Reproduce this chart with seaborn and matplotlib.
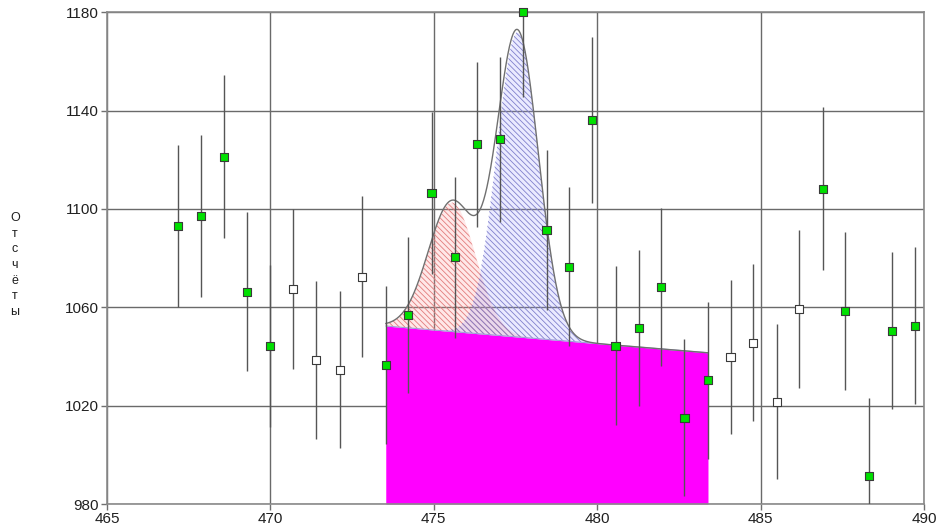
import numpy as np
import pandas as pd
import matplotlib
matplotlib.use("Agg")
import matplotlib.pyplot as plt
import seaborn as sns

# Measured spectrum: channel energy, counts and their uncertainties
energy = [467.18, 467.89, 468.59, 469.29, 470.00, 470.70, 471.40, 472.12, 472.81,
          473.53, 474.22, 474.93, 475.65, 476.33, 477.03, 477.74, 478.45, 479.15,
          479.84, 480.56, 481.27, 481.96, 482.67, 483.39, 484.08, 484.78, 485.49,
          486.18, 486.91, 487.59, 488.31, 489.01, 489.72]
counts = [1093.2, 1097.1, 1121.3, 1066.4, 1044.4, 1067.5, 1038.6, 1034.6, 1072.5,
          1036.5, 1056.9, 1106.4, 1080.3, 1126.3, 1128.3, 1180.0, 1091.5, 1076.5,
          1136.2, 1044.4, 1051.5, 1068.4, 1015.1, 1030.4, 1039.7, 1045.6, 1021.6,
          1059.4, 1108.3, 1058.6, 991.4, 1050.5, 1052.5]
errors = [33.0, 33.0, 33.3, 32.5, 33.0, 32.6, 32.0, 32.0, 32.6,
          32.0, 31.6, 33.0, 32.8, 33.5, 33.5, 34.3, 32.5, 32.3,
          33.7, 32.3, 31.8, 32.1, 31.9, 31.9, 31.4, 31.9, 31.6,
          32.1, 33.1, 32.2, 31.6, 31.9, 32.0]
# Channels used in the fit ("fit") versus background reference channels ("ref")
status = ["fit", "fit", "fit", "fit", "fit", "ref", "ref", "ref", "ref",
          "fit", "fit", "fit", "fit", "fit", "fit", "fit", "fit", "fit",
          "fit", "fit", "fit", "fit", "fit", "fit", "ref", "ref", "ref",
          "ref", "fit", "fit", "fit", "fit", "fit"]

# Fit window and linear background
fit_lo, fit_hi = 473.53, 483.39
bg_lo, bg_hi = 1052.4, 1041.5
# Two Gaussian components: (centre, amplitude, sigma)
peak1 = (475.55, 52.5, 0.72)
peak2 = (477.56, 124.0, 0.64)

x_ticks = [465, 470, 475, 480, 485, 490]
y_ticks = [980, 1020, 1060, 1100, 1140, 1180]

df = pd.DataFrame({"energy": energy, "counts": counts, "err": errors, "status": status})

sns.set_style("white")
plt.rcParams["font.family"] = ["Liberation Sans", "DejaVu Sans"]
plt.rcParams["hatch.linewidth"] = 0.6

fig = plt.figure(figsize=(9.39, 5.29), dpi=100)
ax = fig.add_axes([107 / 939, 1 - 504 / 529, 817 / 939, 491.7 / 529])

ax.set_xlim(465, 490)
ax.set_ylim(980, 1180)
ax.set_xticks(x_ticks)
ax.set_yticks(y_ticks)
ax.tick_params(axis="both", labelsize=11, length=4, width=1, color="#707070",
               direction="out", pad=2, bottom=True, left=True, labelcolor="#202020")

grid_c = "#6a6a6a"
ax.grid(True, color=grid_c, linewidth=1.0, zorder=0)
ax.set_axisbelow(True)
for s in ax.spines.values():
    s.set_color("#8a8a8a")
    s.set_linewidth(1.2)

# Fitted model
xf = np.linspace(fit_lo, fit_hi, 600)
bg = bg_lo + (xf - fit_lo) * (bg_hi - bg_lo) / (fit_hi - fit_lo)


def gauss(x, p):
    c, a, s = p
    return a * np.exp(-0.5 * ((x - c) / s) ** 2)


g1 = gauss(xf, peak1)
g2 = gauss(xf, peak2)

ax.fill_between(xf, 980, bg, color="#ff00ff", linewidth=0, zorder=1)

hatch = "\\\\\\\\\\\\"
ax.fill_between(xf, bg, bg + g1, facecolor=(1.0, 0.6, 0.6, 0.22), linewidth=0, zorder=1.5)
ax.fill_between(xf, bg, bg + g1, facecolor="none", edgecolor="#e27c7c", hatch=hatch,
                linewidth=0, zorder=1.6)
ax.fill_between(xf, bg, bg + g2, facecolor=(0.6, 0.6, 1.0, 0.2), linewidth=0, zorder=1.5)
ax.fill_between(xf, bg, bg + g2, facecolor="none", edgecolor="#8080cc", hatch=hatch,
                linewidth=0, zorder=1.6)

ax.plot(xf, bg, color="#a0a0d8", linewidth=0.8, zorder=1.7)
ax.plot(xf, bg + g1 + g2, color="#707070", linewidth=1.0, zorder=2)

# Error bars and points
ax.errorbar(df["energy"], df["counts"], yerr=df["err"], fmt="none",
            ecolor="#555555", elinewidth=1.0, capsize=0, zorder=3)
sns.scatterplot(data=df, x="energy", y="counts", hue="status",
                palette={"fit": "#00e000", "ref": "white"}, marker="s", s=34,
                edgecolor="#3a3a3a", linewidth=0.8, legend=False, ax=ax,
                zorder=4, clip_on=False)

ax.set_xlabel("")
ax.set_ylabel("")
fig.text(15 / 939, 1 - 265 / 529, "\n".join("Отсчёты"), ha="center", va="center",
         fontsize=9, linespacing=1.4, color="#202020")

fig.savefig("out.png", dpi=100)
